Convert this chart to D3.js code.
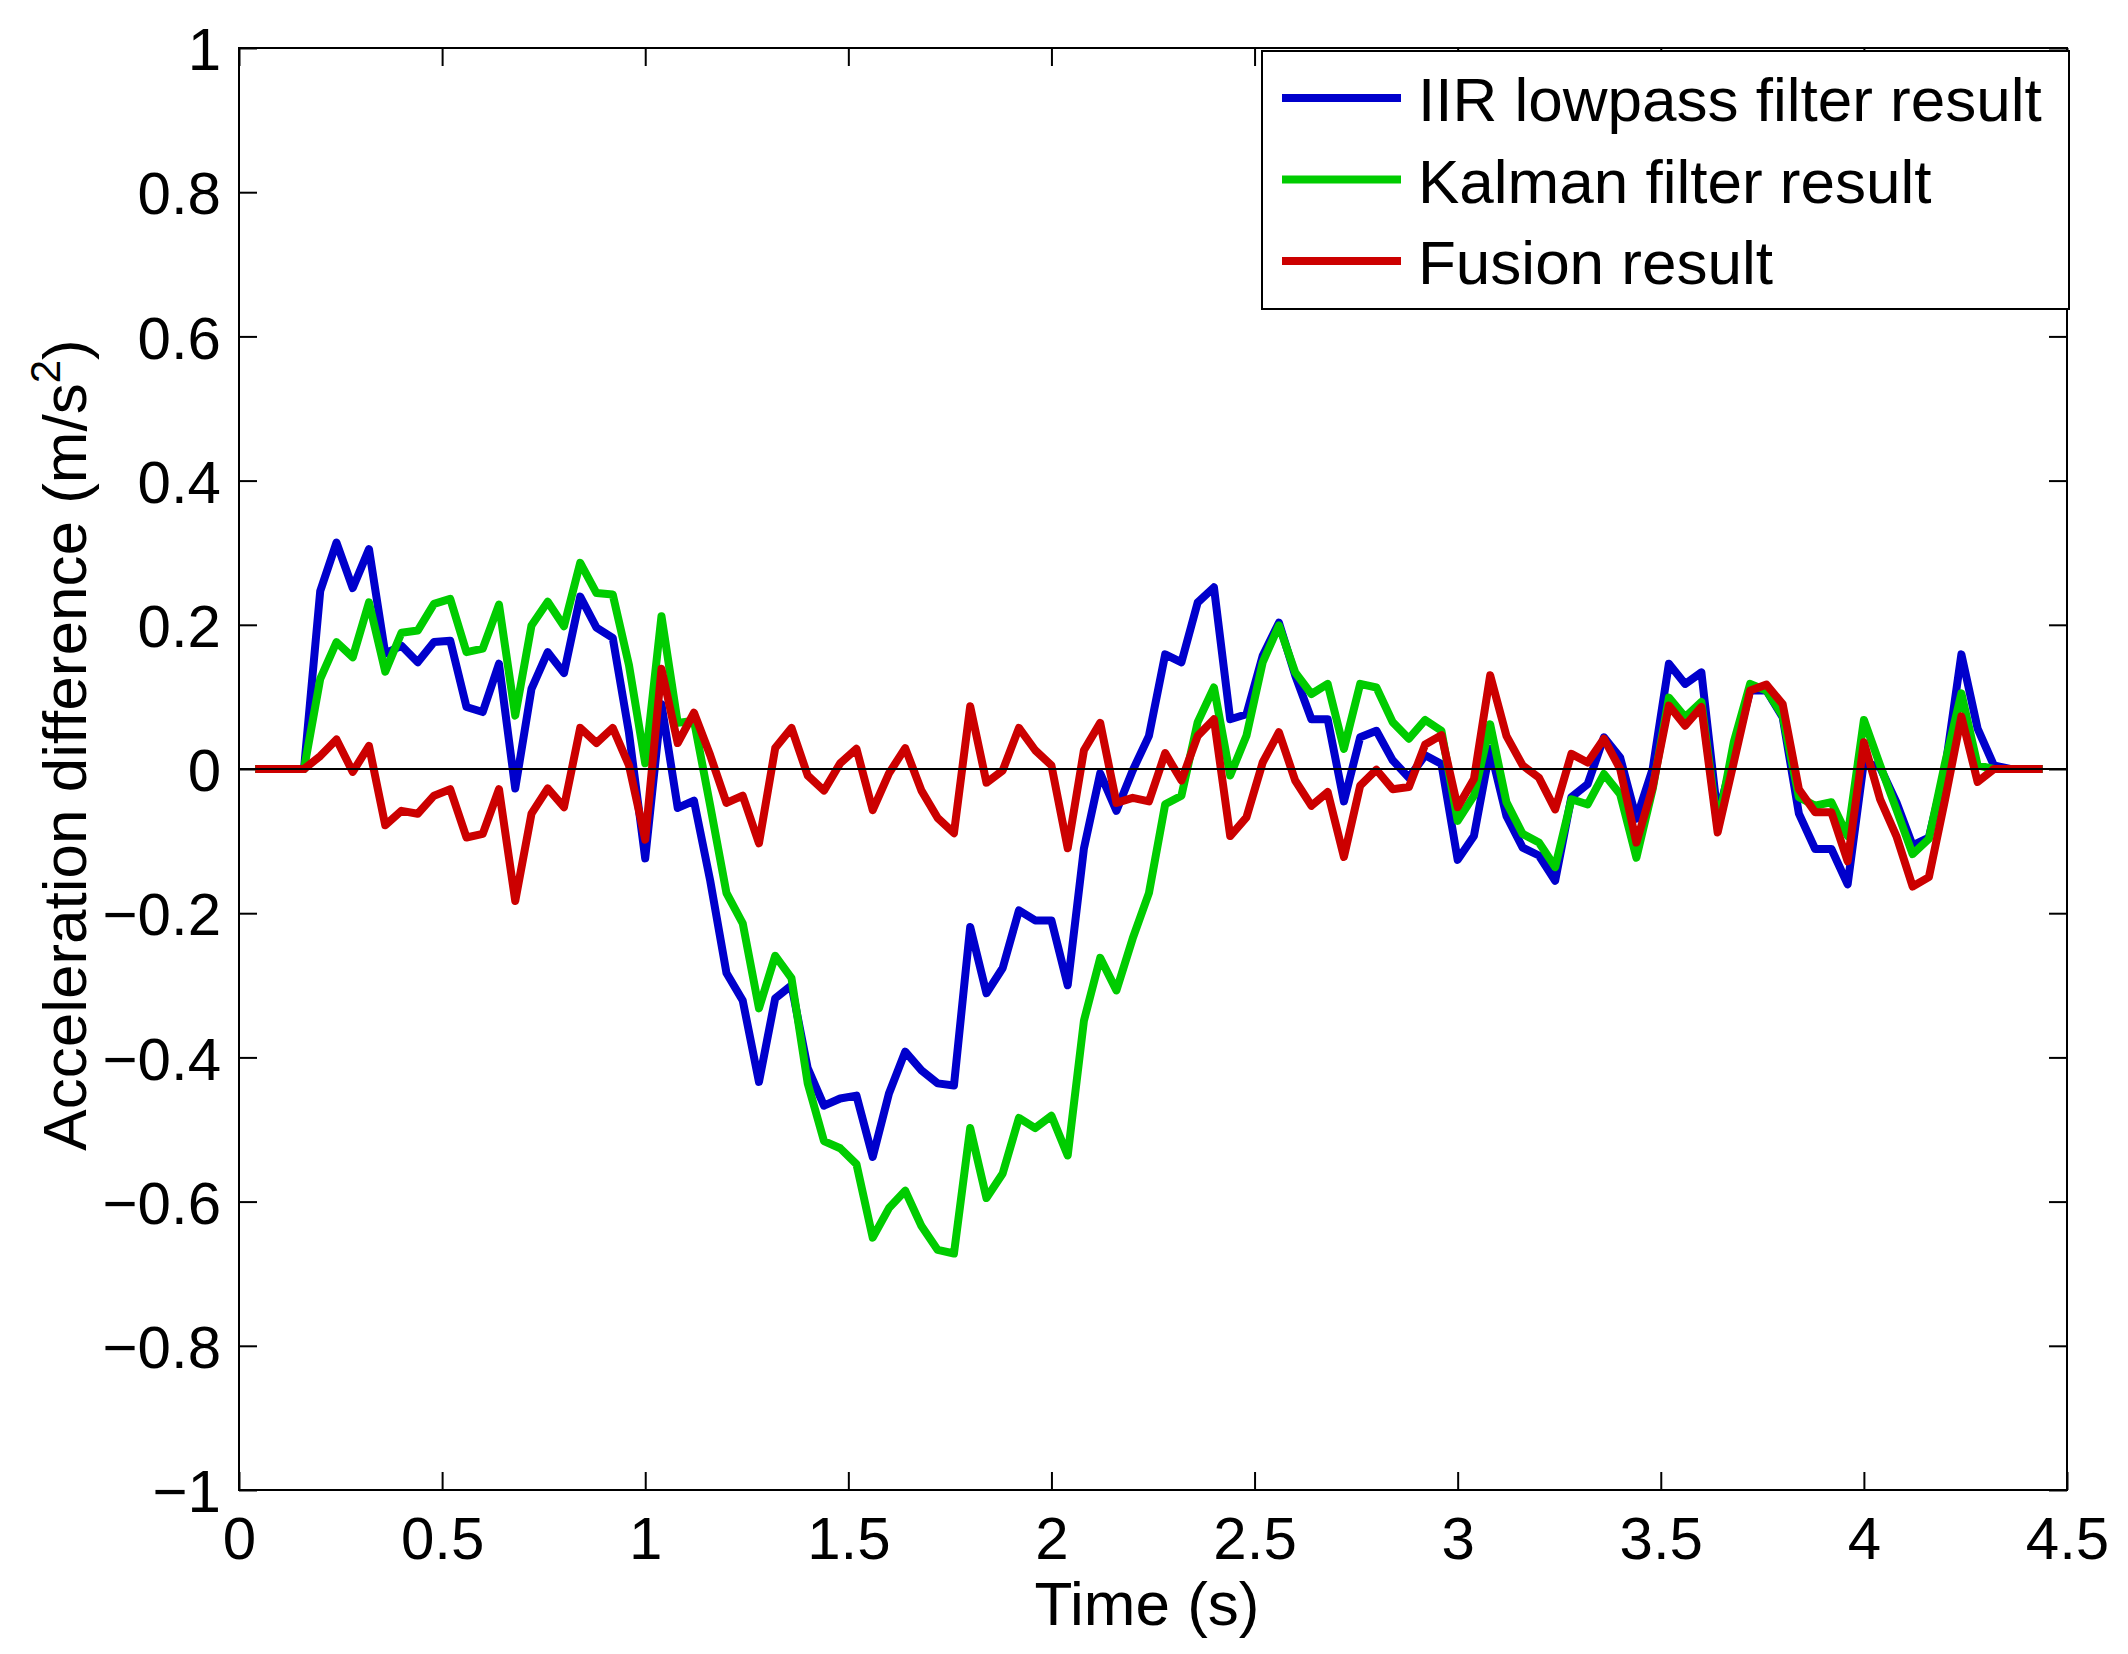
<!DOCTYPE html>
<html>
<head>
<meta charset="utf-8">
<script src="https://cdn.jsdelivr.net/npm/d3@7"></script>
<style>
  body { margin: 0; background: #fff; }
  svg text { font-family: "Liberation Sans", Arial, Helvetica, sans-serif; fill: #000; }
</style>
</head>
<body>
<div id="container"></div>
<script>
// sampled every 0.04 s, first sample at 0.04 s
let t0 = 0.04;
let dt = 0.04;

let iirValues = [
  0, 0, 0, 0, 0.247, 0.314, 0.251, 0.305, 0.160, 0.171,
  0.148, 0.176, 0.178, 0.086, 0.079, 0.146, -0.027, 0.111, 0.162, 0.133,
  0.239, 0.196, 0.182, 0.05, -0.124, 0.09, -0.054, -0.044, -0.155, -0.283,
  -0.321, -0.434, -0.318, -0.300, -0.415, -0.467, -0.457, -0.453, -0.538, -0.450,
  -0.392, -0.418, -0.436, -0.439, -0.219, -0.311, -0.276, -0.196, -0.210, -0.210,
  -0.300, -0.110, -0.006, -0.058, -0.002, 0.046, 0.159, 0.148, 0.231, 0.252,
  0.069, 0.076, 0.157, 0.203, 0.130, 0.069, 0.069, -0.045, 0.044, 0.053,
  0.012, -0.012, 0.019, 0.007, -0.126, -0.093, 0.028, -0.065, -0.109, -0.120,
  -0.155, -0.039, -0.021, 0.044, 0.016, -0.069, 0.000, 0.146, 0.118, 0.134,
  -0.065, 0.020, 0.109, 0.109, 0.072, -0.062, -0.111, -0.111, -0.160, 0.010,
  0.002, -0.046, -0.106, -0.095, 0.000, 0.159, 0.056, 0.005, 0, 0,
  0
];

let kalmanValues = [
  0, 0, 0, 0, 0.125, 0.176, 0.155, 0.231, 0.135, 0.189,
  0.192, 0.229, 0.236, 0.162, 0.167, 0.228, 0.074, 0.199, 0.232, 0.198,
  0.286, 0.244, 0.242, 0.144, 0.008, 0.212, 0.064, 0.067, -0.051, -0.172,
  -0.214, -0.332, -0.259, -0.290, -0.436, -0.516, -0.526, -0.548, -0.650, -0.609,
  -0.585, -0.634, -0.667, -0.672, -0.498, -0.595, -0.561, -0.484, -0.498, -0.481,
  -0.536, -0.349, -0.262, -0.307, -0.235, -0.172, -0.049, -0.037, 0.065, 0.113,
  -0.009, 0.046, 0.148, 0.199, 0.134, 0.104, 0.118, 0.028, 0.118, 0.113,
  0.065, 0.042, 0.068, 0.053, -0.072, -0.037, 0.062, -0.046, -0.090, -0.102,
  -0.136, -0.042, -0.049, -0.007, -0.035, -0.123, -0.028, 0.099, 0.072, 0.093,
  -0.080, 0.038, 0.118, 0.109, 0.074, -0.039, -0.051, -0.046, -0.093, 0.068,
  0.005, -0.056, -0.118, -0.097, 0.009, 0.105, 0.005, 0, 0, 0,
  0
];

let fusionValues = [
  0, 0, 0, 0, 0.018, 0.041, -0.004, 0.032, -0.078, -0.058,
  -0.062, -0.037, -0.028, -0.095, -0.090, -0.028, -0.183, -0.062, -0.027, -0.053,
  0.057, 0.036, 0.057, 0.005, -0.098, 0.139, 0.036, 0.078, 0.019, -0.047,
  -0.037, -0.103, 0.029, 0.057, -0.009, -0.030, 0.008, 0.028, -0.057, -0.006,
  0.029, -0.030, -0.068, -0.089, 0.087, -0.019, -0.002, 0.057, 0.026, 0.005,
  -0.110, 0.026, 0.064, -0.047, -0.040, -0.045, 0.022, -0.016, 0.046, 0.069,
  -0.093, -0.067, 0.009, 0.051, -0.016, -0.051, -0.032, -0.122, -0.023, -0.001,
  -0.028, -0.025, 0.034, 0.047, -0.053, -0.014, 0.130, 0.046, 0.005, -0.012,
  -0.056, 0.021, 0.009, 0.042, 0.000, -0.102, -0.025, 0.088, 0.060, 0.086,
  -0.088, 0.010, 0.109, 0.117, 0.090, -0.028, -0.060, -0.060, -0.128, 0.037,
  -0.042, -0.093, -0.163, -0.150, -0.042, 0.073, -0.018, 0, 0, 0,
  0
];

let seriesNames = ["IIR lowpass filter result", "Kalman filter result", "Fusion result"];
let seriesColors = ["#0000cc", "#00cc00", "#cc0000"];

let xTicks = [0, 0.5, 1, 1.5, 2, 2.5, 3, 3.5, 4, 4.5];
let yTicks = [-1, -0.8, -0.6, -0.4, -0.2, 0, 0.2, 0.4, 0.6, 0.8, 1];

// page + axes box
let w = 2128;
let h = 1654;
let padLeft = 239, padRight = 2067, padTop = 48, padBottom = 1490;

let viz = d3.select("#container")
  .append("svg")
    .attr("width", w)
    .attr("height", h)
;
viz.append("rect").attr("width", w).attr("height", h).attr("fill", "#fff");

let xScale = d3.scaleLinear().domain([0, 4.5]).range([padLeft, padRight]);
let yScale = d3.scaleLinear().domain([-1, 1]).range([padBottom, padTop]);

let times = iirValues.map(function(d, i){ return t0 + i * dt; });
let allSeries = [iirValues, kalmanValues, fusionValues];

// minus sign like matlab does it
function fmt(v){
  return String(v).replace("-", "\u2212");
}

let tickLen = 18;

// bottom + top axis (ticks point inward)
let xAxis = d3.axisBottom(xScale).tickValues(xTicks).tickSize(-tickLen).tickPadding(26).tickFormat(fmt);
let xAxisGroup = viz.append("g").attr("transform", "translate(0," + padBottom + ")").call(xAxis);
let xAxisTop = viz.append("g").attr("transform", "translate(0," + padTop + ")")
  .call(d3.axisTop(xScale).tickValues(xTicks).tickSize(-tickLen).tickFormat(""));

let yAxis = d3.axisLeft(yScale).tickValues(yTicks).tickSize(-tickLen).tickPadding(18).tickFormat(fmt);
let yAxisGroup = viz.append("g").attr("transform", "translate(" + padLeft + ",0)").call(yAxis);
let yAxisRight = viz.append("g").attr("transform", "translate(" + padRight + ",0)")
  .call(d3.axisRight(yScale).tickValues(yTicks).tickSize(-tickLen).tickFormat(""));

viz.selectAll(".domain").remove();
viz.selectAll(".tick line").attr("stroke", "#000").attr("stroke-width", 2);
xAxisGroup.selectAll("text").attr("font-size", 60).attr("dy", "0.71em");
yAxisGroup.selectAll("text").attr("font-size", 60).attr("dy", "0.36em");

// the box around the plot
viz.append("rect")
  .attr("x", padLeft).attr("y", padTop)
  .attr("width", padRight - padLeft).attr("height", padBottom - padTop)
  .attr("fill", "none").attr("stroke", "#000").attr("stroke-width", 2);

// the data lines
let line = d3.line()
  .x(function(d, i){ return xScale(times[i]); })
  .y(function(d){ return yScale(d); });

viz.append("g").classed("lines", true)
  .selectAll("path")
  .data(allSeries)
  .enter()
  .append("path")
    .attr("d", line)
    .attr("fill", "none")
    .attr("stroke", function(d, i){ return seriesColors[i]; })
    .attr("stroke-width", 8)
    .attr("stroke-linejoin", "round")
;

// zero line sits on top of the data
viz.append("line")
  .attr("x1", padLeft).attr("x2", padRight)
  .attr("y1", yScale(0)).attr("y2", yScale(0))
  .attr("stroke", "#000").attr("stroke-width", 2);

// axis labels
viz.append("text")
  .attr("x", (padLeft + padRight) / 2 - 6)
  .attr("y", 1625)
  .attr("text-anchor", "middle")
  .attr("font-size", 62)
  .text("Time (s)");

let yLabel = viz.append("text")
  .attr("transform", "translate(86,745) rotate(-90)")
  .attr("text-anchor", "middle")
  .attr("font-size", 62);
yLabel.append("tspan").text("Acceleration difference (m/s");
yLabel.append("tspan").attr("font-size", 42).attr("dy", -26).text("2");
yLabel.append("tspan").attr("dy", 26).text(")");

// legend
let legend = viz.append("g").attr("transform", "translate(1262,51)");
legend.append("rect")
  .attr("width", 807).attr("height", 258)
  .attr("fill", "#fff").attr("stroke", "#000").attr("stroke-width", 2);

let legendRows = legend.selectAll(".row")
  .data(seriesNames)
  .enter()
  .append("g")
    .classed("row", true)
    .attr("transform", function(d, i){ return "translate(0," + (47 + i * 81.5) + ")"; })
;
legendRows.append("line")
  .attr("x1", 20).attr("x2", 139)
  .attr("stroke", function(d, i){ return seriesColors[i]; })
  .attr("stroke-width", 8);
legendRows.append("text")
  .attr("x", 156)
  .attr("y", 23)
  .attr("font-size", 62)
  .text(function(d){ return d; });
</script>
</body>
</html>
